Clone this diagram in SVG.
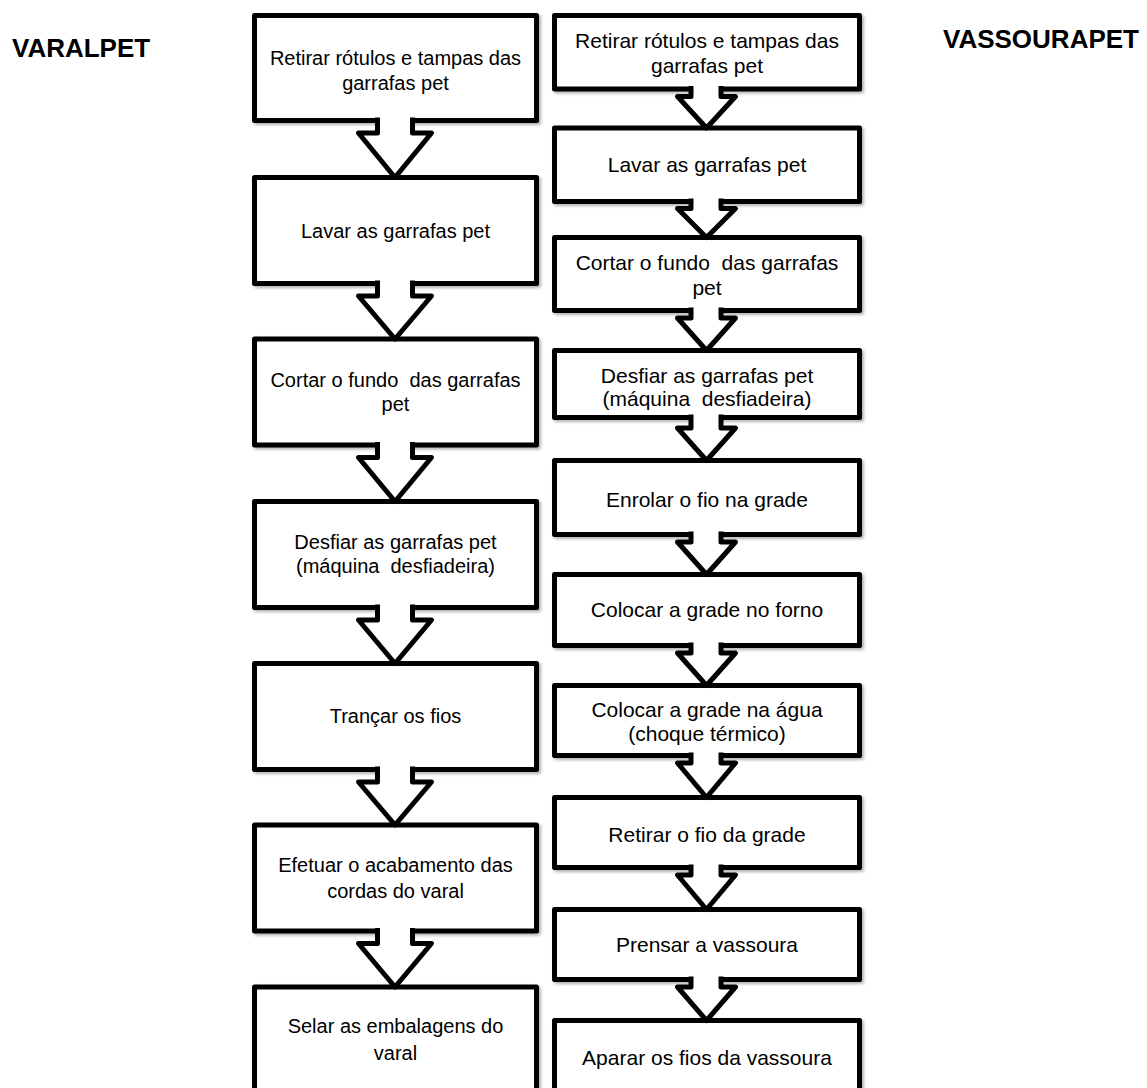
<svg xmlns="http://www.w3.org/2000/svg" width="1147" height="1088" viewBox="0 0 1147 1088">
<style>
.box{fill:#fff;stroke:#000;stroke-width:5;stroke-linejoin:round;filter:url(#sh)}
.arr{fill:#fff;stroke:#000;stroke-width:5;stroke-linejoin:round}
.tl{font-family:"Liberation Sans",Arial,sans-serif;font-size:20px;fill:#000;text-anchor:middle}
.tr{font-family:"Liberation Sans",Arial,sans-serif;font-size:21px;fill:#000;text-anchor:middle}
.ttl{font-family:"Liberation Sans",Arial,sans-serif;font-size:26px;font-weight:bold;fill:#000}
</style>
<defs>
<filter id="sh" x="-5%" y="-5%" width="115%" height="120%">
<feDropShadow dx="2" dy="2" stdDeviation="1.5" flood-color="#000" flood-opacity="0.3"/>
</filter>
</defs>
<rect width="1147" height="1088" fill="#fff"/>
<text class="ttl" x="12" y="57">VARALPET</text>
<text class="ttl" x="943" y="48">VASSOURAPET</text>

<!-- Left column -->
<g id="L1"><rect class="box" x="254.5" y="15.5" width="282" height="105"/><text class="tl" x="395.5" y="65">Retirar rótulos e tampas das</text><text class="tl" x="395.5" y="90">garrafas pet</text></g>
<g id="L2"><rect class="box" x="254.5" y="177.5" width="282" height="106"/><text class="tl" x="395.5" y="238">Lavar as garrafas pet</text></g>
<g id="L3"><rect class="box" x="254.5" y="339" width="282" height="106"/><text class="tl" x="395.5" y="387">Cortar o fundo&#160; das garrafas</text><text class="tl" x="395.5" y="411">pet</text></g>
<g id="L4"><rect class="box" x="254.5" y="501.5" width="282" height="106"/><text class="tl" x="395.5" y="549">Desfiar as garrafas pet</text><text class="tl" x="395.5" y="573">(máquina&#160; desfiadeira)</text></g>
<g id="L5"><rect class="box" x="254.5" y="663.5" width="282" height="106"/><text class="tl" x="395.5" y="723">Trançar os fios</text></g>
<g id="L6"><rect class="box" x="254.5" y="825" width="282" height="106"/><text class="tl" x="395.5" y="872">Efetuar o acabamento das</text><text class="tl" x="395.5" y="898">cordas do varal</text></g>
<g id="L7"><rect class="box" x="254.5" y="987" width="282" height="106"/><text class="tl" x="395.5" y="1033">Selar as embalagens do</text><text class="tl" x="395.5" y="1060">varal</text></g>

<!-- Right column -->
<g id="R1"><rect class="box" x="554.5" y="15.5" width="305" height="73.5"/><text class="tr" x="707" y="48">Retirar rótulos e tampas das</text><text class="tr" x="707" y="73">garrafas pet</text></g>
<g id="R2"><rect class="box" x="554.5" y="128" width="305" height="73.5"/><text class="tr" x="707" y="172">Lavar as garrafas pet</text></g>
<g id="R3"><rect class="box" x="554.5" y="237.5" width="305" height="73"/><text class="tr" x="707" y="270">Cortar o fundo&#160; das garrafas</text><text class="tr" x="707" y="295">pet</text></g>
<g id="R4"><rect class="box" x="554.5" y="350.5" width="305" height="67"/><text class="tr" x="707" y="383">Desfiar as garrafas pet</text><text class="tr" x="707" y="406">(máquina&#160; desfiadeira)</text></g>
<g id="R5"><rect class="box" x="554.5" y="460.5" width="305" height="74"/><text class="tr" x="707" y="507">Enrolar o fio na grade</text></g>
<g id="R6"><rect class="box" x="554.5" y="574.5" width="305" height="71"/><text class="tr" x="707" y="617">Colocar a grade no forno</text></g>
<g id="R7"><rect class="box" x="554.5" y="685.5" width="305" height="70"/><text class="tr" x="707" y="717">Colocar a grade na água</text><text class="tr" x="707" y="741">(choque térmico)</text></g>
<g id="R8"><rect class="box" x="554.5" y="797.5" width="305" height="70"/><text class="tr" x="707" y="842">Retirar o fio da grade</text></g>
<g id="R9"><rect class="box" x="554.5" y="909.5" width="305" height="70"/><text class="tr" x="707" y="952">Prensar a vassoura</text></g>
<g id="R10"><rect class="box" x="554.5" y="1020.5" width="305" height="80"/><text class="tr" x="707" y="1065">Aparar os fios da vassoura</text></g>

<!-- Connectors -->
<g id="connectors">
<path class="arr" d="M377.5 117.5V133H358.5L395 177.5L431.5 133H412.5V117.5"/>
<path class="arr" d="M377.5 280.5V296H358.5L395 339L431.5 296H412.5V280.5"/>
<path class="arr" d="M377.5 442V457.5H358.5L395 501.5L431.5 457.5H412.5V442"/>
<path class="arr" d="M377.5 604.5V620H358.5L395 663.5L431.5 620H412.5V604.5"/>
<path class="arr" d="M377.5 766.5V782H358.5L395 825L431.5 782H412.5V766.5"/>
<path class="arr" d="M377.5 928V943.5H358.5L395 987L431.5 943.5H412.5V928"/>

<path class="arr" d="M691 86V96.5H677.5L706.5 128L735.5 96.5H721V86"/>
<path class="arr" d="M691 198.5V208.5H677.5L706.5 237.5L735.5 208.5H721V198.5"/>
<path class="arr" d="M691 307.5V318H677.5L706.5 350.5L735.5 318H721V307.5"/>
<path class="arr" d="M691 414.5V428H677.5L706.5 460.5L735.5 428H721V414.5"/>
<path class="arr" d="M691 531.5V542H677.5L706.5 574.5L735.5 542H721V531.5"/>
<path class="arr" d="M691 642.5V653H677.5L706.5 685.5L735.5 653H721V642.5"/>
<path class="arr" d="M691 752.5V763H677.5L706.5 797.5L735.5 763H721V752.5"/>
<path class="arr" d="M691 864.5V875H677.5L706.5 909.5L735.5 875H721V864.5"/>
<path class="arr" d="M691 976.5V987H677.5L706.5 1020.5L735.5 987H721V976.5"/>
</g>
</svg>
